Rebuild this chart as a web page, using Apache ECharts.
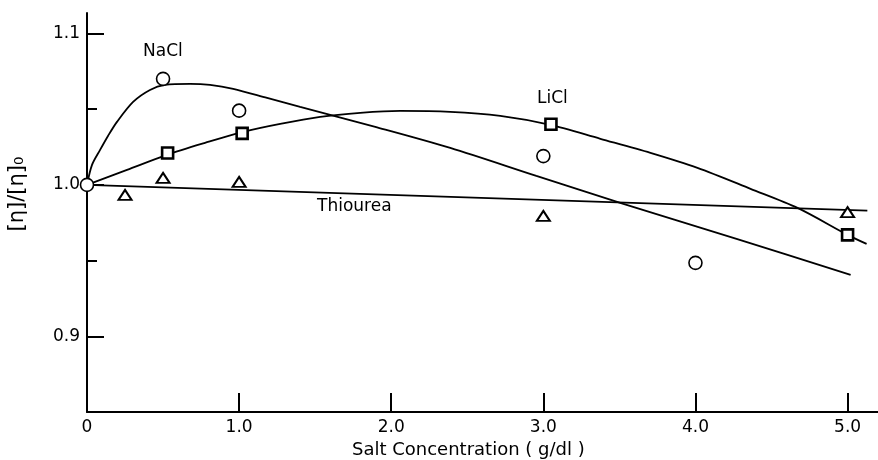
<!DOCTYPE html>
<html>
<head>
<meta charset="utf-8">
<script src="https://cdn.jsdelivr.net/npm/echarts@6/dist/echarts.min.js"></script>
<style>
html,body{margin:0;padding:0;background:#fff;}
#c{width:878px;height:460px;}
</style>
</head>
<body>
<div id="c"></div>
<script>
// Measured points
const naclX = [0, 0.5, 1.0, 3.0, 4.0];
const naclY = [1.0, 1.070, 1.049, 1.019, 0.9485];
const liclX = [0.53, 1.02, 3.05, 5.0];
const liclY = [1.021, 1.034, 1.040, 0.967];
const thioX = [0.25, 0.5, 1.0, 3.0, 5.0];
const thioY = [0.9934, 1.0046, 1.002, 0.9795, 0.982];
// Fitted curves
const naclFitX = [0, 0.033, 0.086, 0.138, 0.197, 0.303, 0.414, 0.513, 0.678, 0.809, 0.961, 1.184, 1.401, 1.895, 2.388, 2.954, 3.526, 4.27, 5.02];
const naclFitY = [1.0, 1.0132, 1.0231, 1.0323, 1.0416, 1.0548, 1.0627, 1.066, 1.0667, 1.066, 1.0634, 1.0574, 1.0515, 1.0383, 1.0244, 1.0059, 0.9875, 0.9644, 0.9406];
const liclFitX = [0, 0.263, 0.526, 0.776, 1.026, 1.270, 1.533, 1.796, 2.059, 2.388, 2.717, 3.046, 3.375, 3.704, 4.013, 4.362, 4.671, 5.0, 5.125];
const liclFitY = [1.0, 1.0099, 1.0198, 1.0277, 1.035, 1.0403, 1.0449, 1.0475, 1.0488, 1.0482, 1.0455, 1.0396, 1.0304, 1.0211, 1.0112, 0.9974, 0.9848, 0.967, 0.961];
const thioFitX = [0, 5.13];
const thioFitY = [1.0, 0.983];
// Ticks
const xTickValues = [1, 2, 3, 4, 5];
const xLabelValues = [0, 1, 2, 3, 4, 5];
const yMajorValues = [0.9, 1.0, 1.1];
const yMinorValues = [0.95, 1.05];
const seriesNames = ['NaCl', 'LiCl', 'Thiourea'];

const zip = (xs, ys) => xs.map((x, i) => [x, ys[i]]);
const FONT = 'DejaVu Sans';
const INK = '#000';

const chart = echarts.init(document.getElementById('c'));
const lineStyle = {color: INK, width: 1.8};
const fit = (name, xs, ys) => ({
  name: name + ' fit', type: 'line', data: zip(xs, ys), smooth: 0.3,
  showSymbol: false, symbol: 'none', lineStyle: lineStyle, silent: true, z: 2
});
const pts = (name, xs, ys, symbol, size, bw) => ({
  name: name, type: 'scatter', data: zip(xs, ys), symbol: symbol, symbolSize: size, clip: false, z: 5,
  itemStyle: {color: '#fff', borderColor: INK, borderWidth: bw, opacity: 1}
});
chart.setOption({
  animation: false,
  backgroundColor: '#fff',
  grid: {left: 87, right: 0, top: 13, bottom: 48, containLabel: false},
  xAxis: {
    type: 'value', min: 0, max: 5.2,
    axisLine: {show: true, onZero: false, lineStyle: {color: INK, width: 2}},
    axisTick: {show: true, inside: true, length: 19, customValues: xTickValues, lineStyle: {color: INK, width: 2}},
    axisLabel: {show: true, customValues: xLabelValues, margin: 7, color: INK, fontFamily: FONT, fontSize: 17,
      formatter: v => v === 0 ? '0' : v.toFixed(1)},
    splitLine: {show: false}
  },
  yAxis: [{
    type: 'value', min: 0.85, max: 1.1135,
    axisLine: {show: true, onZero: false, lineStyle: {color: INK, width: 2}},
    axisTick: {show: true, inside: true, length: 17, customValues: yMajorValues, lineStyle: {color: INK, width: 2}},
    axisLabel: {show: true, customValues: yMajorValues, margin: 7, color: INK, fontFamily: FONT, fontSize: 17,
      formatter: v => v.toFixed(1)},
    splitLine: {show: false}
  }, {
    type: 'value', min: 0.85, max: 1.1135, position: 'left', offset: 0,
    axisLine: {show: false},
    axisTick: {show: true, inside: true, length: 10, customValues: yMinorValues, lineStyle: {color: INK, width: 2}},
    axisLabel: {show: false},
    splitLine: {show: false}
  }],
  graphic: [
    {type: 'text', left: 143, top: 43, style: {text: seriesNames[0], fill: INK, font: '17px "DejaVu Sans"'}},
    {type: 'text', left: 537, top: 90, style: {text: seriesNames[1], fill: INK, font: '17px "DejaVu Sans"'}},
    {type: 'text', left: 317, top: 198, style: {text: seriesNames[2], fill: INK, font: '17px "DejaVu Sans"'}},
    {type: 'text', left: 352, top: 441, style: {text: 'Salt Concentration ( g/dl )', fill: INK, font: '18px "DejaVu Sans"'}},
    {type: 'text', x: 18, y: 194, rotation: Math.PI / 2,
      style: {text: '[η]/[η]₀', fill: INK, font: '21px "DejaVu Sans"', align: 'center', verticalAlign: 'middle'}}
  ],
  series: [
    fit(seriesNames[0], naclFitX, naclFitY),
    fit(seriesNames[1], liclFitX, liclFitY),
    fit(seriesNames[2], thioFitX, thioFitY),
    pts(seriesNames[0], naclX, naclY, 'circle', 13, 1.6),
    pts(seriesNames[1], liclX, liclY, 'rect', 11, 2.6),
    pts(seriesNames[2], thioX, thioY, 'triangle', [13, 10], 2)
  ]
});
</script>
</body>
</html>
